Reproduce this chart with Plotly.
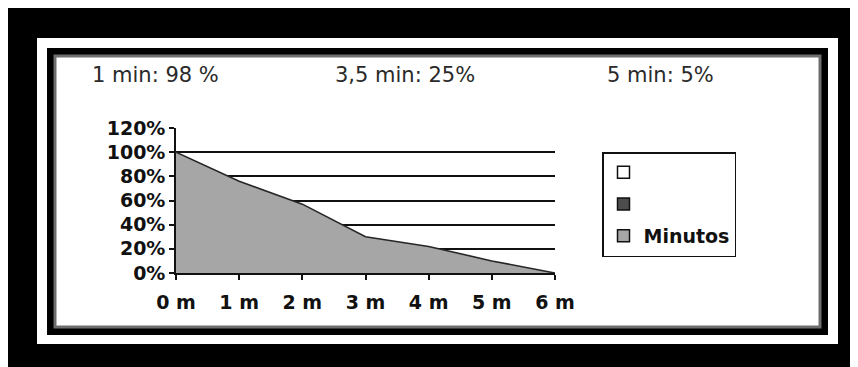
import plotly.graph_objects as go

# ---- data ----
x_vals = [0, 1, 2, 3, 4, 5, 6]
x_labels = ["0 m", "1 m", "2 m", "3 m", "4 m", "5 m", "6 m"]
minutos = [100, 76, 57, 30, 22, 10, 0]
y_ticks = [0, 20, 40, 60, 80, 100, 120]
y_labels = ["0%", "20%", "40%", "60%", "80%", "100%", "120%"]
notes = ["1 min: 98 %", "3,5 min: 25%", "5 min: 5%"]
legend_names = [" ", " ", "Minutos"]
legend_colors = ["#ffffff", "#4d4d4d", "#a6a6a6"]

W, H = 858, 367
OFF = 8  # page body margin


def px(x):
    return (x - OFF) / W


def py(y):
    return 1 - (y - OFF) / H


fig = go.Figure()

# area series
fig.add_trace(go.Scatter(
    x=x_vals, y=minutos, mode="lines", fill="tozeroy",
    fillcolor="#a6a6a6", line=dict(color="#262626", width=1.6),
    showlegend=False, legendgroup="g2", hoverinfo="skip"))

# legend entries (square keys)
for i, (nm, col) in enumerate(zip(legend_names, legend_colors)):
    fig.add_trace(go.Bar(
        x=[None], y=[None], name=nm, legendgroup=f"g{i}",
        marker=dict(color=col, line=dict(color="#111111", width=1.5))))

# frames
shapes = [
    dict(type="rect", xref="paper", yref="paper", x0=px(37), x1=px(838), y0=py(344), y1=py(38),
         fillcolor="#ffffff", line=dict(width=0), layer="below"),
    dict(type="rect", xref="paper", yref="paper", x0=px(47), x1=px(828), y0=py(335), y1=py(48),
         fillcolor="#000000", line=dict(width=0), layer="below"),
    dict(type="rect", xref="paper", yref="paper", x0=px(55), x1=px(820), y0=py(327), y1=py(56),
         fillcolor="#ffffff", line=dict(color="#6e6e6e", width=3), layer="below"),
]

annotations = []
for txt, xl in zip(notes, [90, 333, 605]):
    annotations.append(dict(
        text=txt, xref="paper", yref="paper", x=px(xl), y=py(75),
        xanchor="left", yanchor="middle", showarrow=False,
        font=dict(family="DejaVu Sans", size=21, color="#2a2a2a")))

fig.update_layout(
    width=W, height=H, autosize=False,
    margin=dict(l=0, r=0, t=0, b=0, pad=0, autoexpand=False),
    paper_bgcolor="#000000", plot_bgcolor="rgba(0,0,0,0)",
    shapes=shapes, annotations=annotations,
    showlegend=True,
    legend=dict(
        x=px(602), y=py(152), xanchor="left", yanchor="top",
        bgcolor="#ffffff", bordercolor="#111111", borderwidth=1.5,
        tracegroupgap=4, traceorder="grouped",
        font=dict(family="DejaVu Sans", size=19, color="#111111", weight="bold")),
    xaxis=dict(
        domain=[px(176), px(555)], range=[0, 6],
        tickmode="array", tickvals=x_vals, ticktext=x_labels,
        ticks="outside", ticklen=5, tickwidth=1.5, tickcolor="#111111",
        showline=True, linecolor="#111111", linewidth=1.6,
        showgrid=False, zeroline=False, ticklabelstandoff=6,
        tickfont=dict(family="DejaVu Sans", size=19, color="#111111", weight="bold")),
    yaxis=dict(
        domain=[py(273), py(128)], range=[0, 120],
        tickmode="array", tickvals=y_ticks, ticktext=y_labels,
        ticks="outside", ticklen=5, tickwidth=1.5, tickcolor="#111111",
        showline=True, linecolor="#111111", linewidth=1.6,
        showgrid=True, gridcolor="#111111", gridwidth=1.5, zeroline=False,
        tickfont=dict(family="DejaVu Sans", size=19, color="#111111", weight="bold")),
)

fig.write_html("out.html")
